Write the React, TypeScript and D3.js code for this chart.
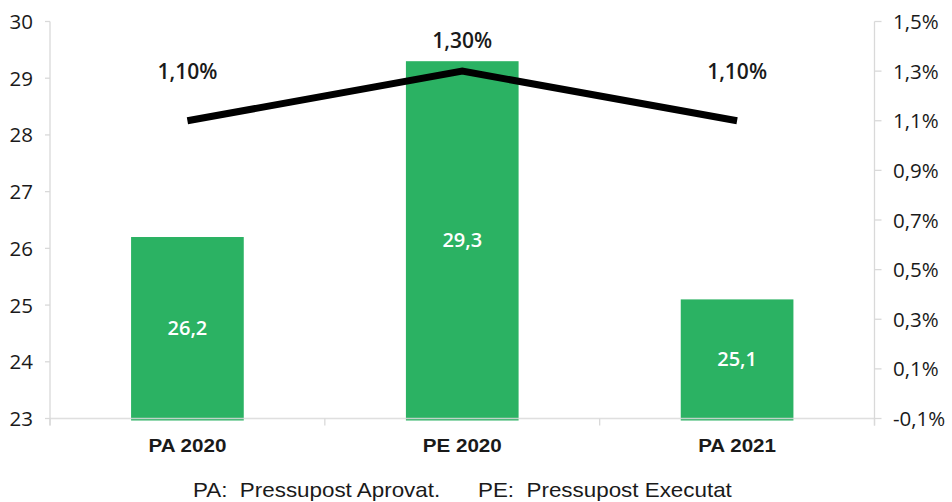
import React from "react";
import * as d3 from "d3";

const categories = ["PA 2020", "PE 2020", "PA 2021"];
const barValues = [26.2, 29.3, 25.1];
const lineValues = [1.1, 1.3, 1.1];
const lineLabelOffsets = [49, 31, 49];
const leftTicks = [23, 24, 25, 26, 27, 28, 29, 30];
const rightTicks = [-0.1, 0.1, 0.3, 0.5, 0.7, 0.9, 1.1, 1.3, 1.5];
const legendItems = ["PA:  Pressupost Aprovat.", "PE:  Pressupost Executat"];

const W = 952;
const H = 502;
const left = 50;
const right = 874.5;
const top = 21.5;
const bottom = 418.5;

const fmt = (v: number, d: number) => v.toFixed(d).replace(".", ",");

export default function App() {
  const x = d3.scaleBand<string>().domain(categories).range([left, right]).paddingInner(0).paddingOuter(0);
  const y = d3.scaleLinear().domain([23, 30]).range([bottom, top]);
  const y2 = d3.scaleLinear().domain([-0.1, 1.5]).range([bottom, top]);
  const bw = x.bandwidth() * 0.41;
  const cx = (i: number) => x(categories[i])! + x.bandwidth() / 2;
  const line = d3
    .line<number>()
    .x((_, i) => cx(i))
    .y((d) => y2(d));
  const font = "'Liberation Sans', Arial, sans-serif";
  const tickFont = "'Open Sans', Roboto, sans-serif";
  const grid = "#d9d9d9";
  return (
    <svg
      width={W}
      height={H}
      style={{ position: "absolute", left: 0, top: 0, background: "#fff" }}
    >
      {/* bars */}
      {categories.map((c, i) => {
        const yt = y(barValues[i]);
        return (
          <g key={c}>
            <rect x={cx(i) - bw / 2} y={yt} width={bw} height={bottom - yt + 2} fill="#2bb263" />
            <text
              x={cx(i)}
              y={(yt + bottom) / 2 + 7.5}
              textAnchor="middle"
              fontFamily={tickFont}
              fontWeight={600}
              fontSize={20}
              fill="#ffffff"
            >
              {fmt(barValues[i], 1)}
            </text>
          </g>
        );
      })}
      {/* left axis */}
      <line x1={left} x2={left} y1={top} y2={bottom + 7} stroke={grid} strokeWidth={1.3} />
      {leftTicks.map((t) => (
        <g key={"l" + t}>
          <line x1={left - 5} x2={left} y1={y(t)} y2={y(t)} stroke={grid} strokeWidth={1.3} />
          <text x={33} y={y(t) + 7.5} textAnchor="end" fontFamily={tickFont} fontSize={20.5} fill="#1a1a1a">
            {t}
          </text>
        </g>
      ))}
      {/* right axis */}
      <line x1={right} x2={right} y1={top} y2={bottom + 7} stroke={grid} strokeWidth={1.3} />
      {rightTicks.map((t) => (
        <g key={"r" + t}>
          <line x1={right} x2={right + 7} y1={y2(t)} y2={y2(t)} stroke={grid} strokeWidth={1.3} />
          <text x={893} y={y2(t) + 7.5} textAnchor="start" fontFamily={tickFont} fontSize={20.5} fill="#1a1a1a">
            {fmt(t, 1)}%
          </text>
        </g>
      ))}
      {/* category axis */}
      <line x1={left} x2={right} y1={bottom} y2={bottom} stroke={grid} strokeWidth={1.6} strokeOpacity={0.85} />
      {[0, 1, 2, 3].map((i) => {
        const xx = left + i * x.step();
        return <line key={"ct" + i} x1={xx} x2={xx} y1={bottom} y2={bottom + 7} stroke={grid} strokeWidth={1.3} />;
      })}
      {categories.map((c, i) => (
        <text
          key={"cl" + c}
          transform={`translate(${cx(i)},451.7) scale(1.085,1)`}
          textAnchor="middle"
          fontFamily={font}
          fontWeight="bold"
          fontSize={19}
          fill="#1a1a1a"
        >
          {c}
        </text>
      ))}
      {/* line */}
      <path d={line(lineValues) || ""} fill="none" stroke="#000" strokeWidth={7} strokeLinejoin="miter" />
      {lineValues.map((v, i) => (
        <text
          key={"lv" + i}
          x={cx(i)}
          y={y2(v) - lineLabelOffsets[i] + 7.5}
          textAnchor="middle"
          fontFamily={tickFont}
          fontWeight={600}
          fontSize={21}
          fill="#1a1a1a"
        >
          {fmt(v, 2)}%
        </text>
      ))}
      {/* legend */}
      <text
        transform="translate(193,497.3) scale(1.12,1)"
        fontFamily={font}
        fontSize={20}
        fill="#1a1a1a"
        xmlSpace="preserve"
      >
        {legendItems[0]}
      </text>
      <text
        transform="translate(478,497.3) scale(1.12,1)"
        fontFamily={font}
        fontSize={20}
        fill="#1a1a1a"
        xmlSpace="preserve"
      >
        {legendItems[1]}
      </text>
    </svg>
  );
}
